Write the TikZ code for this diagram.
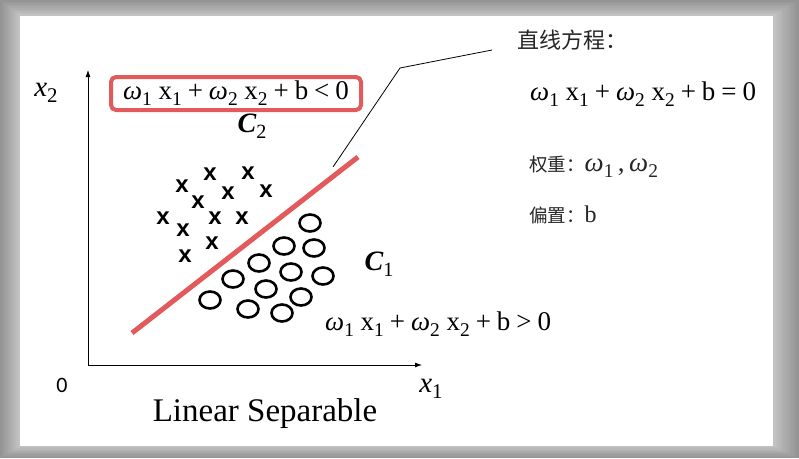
\documentclass[tikz,border=0pt]{standalone}
\usepackage{fontspec}
\setmainfont{Liberation Serif}
\newfontfamily\cjk{Noto Sans CJK SC}
\newfontfamily\lsans{Liberation Sans}
\newfontfamily\carl{Carlito}
\usetikzlibrary{arrows.meta,shapes.geometric}
\definecolor{redline}{HTML}{E25A5C}
\newcommand{\lowix}[1]{\raisebox{-0.22em}{\scalebox{0.72}{#1}}}
\newcommand{\omg}{{\itshape ω}}
\newcommand{\opsp}{\hspace{0.22em}}
\newcommand{\lineexpr}[1]{\omg\lowix{1} x\lowix{1}\opsp+\opsp\omg\lowix{2} x\lowix{2}\opsp+\opsp b\opsp#1\opsp0}
\begin{document}
\begin{tikzpicture}[x=1pt,y=-1pt,
  eq/.style={inner sep=0pt, font=\fontsize{27}{30}\selectfont},
  cjktext/.style={inner sep=0pt, font=\cjk\fontsize{18.5}{20}\selectfont, text=black!85},
  crossmark/.style={inner sep=0pt, font=\lsans\bfseries\fontsize{24}{24}\selectfont},
  ring/.style={draw, line width=2.6pt, ellipse, minimum width=21pt, minimum height=17pt, inner sep=0pt},
  axis/.style={line width=0.8pt, -{Latex[length=7pt,width=5pt]}},
  thinline/.style={line width=0.8pt},
  redbox/.style={draw=redline, line width=4pt, rounded corners=5pt}]
% frame
\useasboundingbox (0,0) rectangle (799,458);
\foreach \i in {0,...,10}{
  \pgfmathsetmacro\c{42-2*\i}
  \fill[black!\c] (2*\i,1.6*\i) rectangle (799-2.6*\i,458-1.2*\i);
}
\fill[white] (20,16) rectangle (773,446);
% axes
\coordinate (O) at (88,365);
\coordinate (ytip) at (88,70);
\coordinate (xtip) at (422,365);
\draw[axis] (O) -- (ytip);
\draw[axis] (O) -- (xtip);
\node[eq, font=\fontsize{29}{30}\selectfont] (x2lab) at (46,93) {{\itshape x}\lowix{2}};
\node[eq, font=\fontsize{29}{30}\selectfont] (x1lab) at (431,389) {{\itshape x}\lowix{1}};
\node[inner sep=0pt, font=\carl\fontsize{22}{22}\selectfont] (zero) at (62,385) {0};
% separating line
\coordinate (sepA) at (132,333);
\coordinate (sepB) at (358,157);
\draw[redline, line width=5pt] (sepA) -- (sepB);
% leader line
\coordinate (leadA) at (333,167);
\coordinate (leadK) at (400,68);
\coordinate (leadB) at (492,50);
\draw[thinline] (leadA) -- (leadK) -- (leadB);
% red box inequality
\node[redbox, eq, minimum width=250pt, minimum height=33pt] (ineqneg) at (236,93.5)
  {\lineexpr{<}};
\node[eq, font=\fontsize{28}{30}\selectfont] (c2) at (252,126) {{\bfseries\itshape C}\lowix{2}};
\node[eq, font=\fontsize{28}{30}\selectfont] (c1) at (379,264) {{\bfseries\itshape C}\lowix{1}};
% crosses
\foreach \px/\py [count=\k] in {182/186,210/174,248/173,198/202,228/193,266/191,163/218,183/230,215/218,242/218,212/243,185/256}
  \node[crossmark] (cross\k) at (\px,\py) {x};
% circles
\foreach \px/\py [count=\k] in {310/223,284/246,314/248,259/263,291/272,323/276,233/279,266/289,301/297,210/300,248/309,282/313}
  \node[ring] (circ\k) at (\px,\py) {};
% right texts
\node[cjktext, anchor=west, font=\cjk\fontsize{22}{24}\selectfont] (title) at (517,40) {直线方程：};
\node[eq, anchor=west] (lineeq) at (530,94) {\lineexpr{=}};
\node[cjktext, anchor=west] (weights) at (529,167) {权重：{\rmfamily\fontsize{27}{28}\selectfont\omg\lowix{1}\,,\,\omg\lowix{2}}};
\node[cjktext, anchor=west] (bias) at (529,215) {偏置：{\rmfamily\fontsize{24}{24}\selectfont b}};
\node[eq, anchor=west] (ineqpos) at (325,324) {\lineexpr{>}};
\node[inner sep=0pt, font=\fontsize{33}{36}\selectfont] (caption) at (265,414) {Linear Separable};
\end{tikzpicture}
\end{document}
